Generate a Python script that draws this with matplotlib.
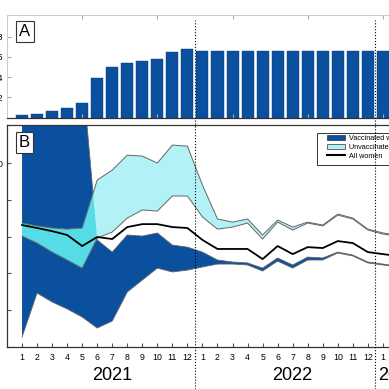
import matplotlib
matplotlib.use('Agg')
import matplotlib.pyplot as plt
import matplotlib.transforms as mtransforms
from matplotlib.patches import Patch, Rectangle
from matplotlib.lines import Line2D
import numpy as np

plt.rcParams['font.family'] = ['Liberation Sans', 'DejaVu Sans']

# Jan 2021 .. Mar 2023
month_labels = [str(m) for m in range(1, 13)] * 2 + ['1', '2', '3']
years = ['2021', '2022', '2023']
year_pos = [6, 18, 25]
year_breaks = [11.5, 23.5]

# panel A - share of women vaccinated
vacc_share = [0.025, 0.032, 0.064, 0.094, 0.144, 0.39, 0.50, 0.54, 0.56, 0.58, 0.65, 0.675,
              0.66, 0.66, 0.66, 0.66, 0.66, 0.66, 0.66, 0.66, 0.66, 0.66, 0.66, 0.66,
              0.66, 0.66, 0.66]

# panel B - rates
all_women = [6.63, 6.47, 6.30, 6.09, 5.49, 5.98, 5.87, 6.52, 6.68, 6.68, 6.52, 6.47,
             5.82, 5.33, 5.33, 5.33, 4.78, 5.49, 5.05, 5.43, 5.38, 5.76, 5.65, 5.16,
             5.05, 4.95, 4.90]
unvacc_hi = [6.74, 6.58, 6.47, 6.41, 6.47, 9.08, 9.62, 10.43, 10.38, 10.00, 10.98, 10.92,
             8.80, 6.96, 6.79, 6.96, 6.09, 6.90, 6.52, 6.79, 6.63, 7.23, 7.01, 6.41,
             6.20, 6.09, 6.00]
unvacc_lo = [6.03, 5.65, 5.16, 4.73, 4.29, 5.92, 6.25, 7.01, 7.45, 7.39, 8.21, 8.21,
             7.07, 6.41, 6.52, 6.74, 5.87, 6.79, 6.36, 6.74, 6.58, 7.17, 6.96, 6.36,
             6.14, 6.03, 5.95]
vacc_hi = [15, 15, 15, 15, 15, 5.82, 5.16, 6.09, 6.03, 6.20, 5.54, 5.43,
           5.16, 4.73, 4.62, 4.57, 4.29, 4.84, 4.46, 4.89, 4.84, 5.16, 5.00, 4.62,
           4.51, 4.40, 4.35]
vacc_lo = [0.54, 2.93, 2.45, 2.07, 1.63, 1.03, 1.41, 2.99, 3.64, 4.29, 4.08, 4.18,
           4.35, 4.51, 4.51, 4.46, 4.13, 4.67, 4.29, 4.73, 4.73, 5.11, 4.95, 4.57,
           4.46, 4.35, 4.30]

blue = '#0b4f9f'
pale = '#b2f1f6'
turq = '#55dce6'
edge = '#666666'

W = 389
fig = plt.figure(figsize=(3.89, 3.89), dpi=100)
x = np.arange(len(month_labels))

# ---- panel A
axA = fig.add_axes([7 / W, 1 - 117.5 / W, 421 / W, 102.5 / W])
axA.bar(x, vacc_share, width=0.8, color=blue, edgecolor='#0a3f80', linewidth=0.3)
axA.set_xlim(-1, 27)
axA.set_ylim(0, 1.015)
axA.set_yticks([0.2, 0.4, 0.6, 0.8])
axA.set_yticklabels(['0.2', '0.4', '0.6', '0.8'])
axA.set_xticks([4, 9, 14, 19, 24])
axA.set_xticklabels([])
axA.tick_params(direction='in', length=3, color='#aaaaaa', labelsize=6.5, pad=2.5,
                top=True, bottom=True)
for s in ['left', 'top', 'right']:
    axA.spines[s].set_color('#cccccc')
    axA.spines[s].set_linewidth(0.7)
axA.spines['bottom'].set_color('#333333')
axA.spines['bottom'].set_linewidth(0.9)
fig.text(25 / W, 1 - 31.5 / W, 'A', fontsize=12, ha='center', va='center',
         bbox=dict(boxstyle='square,pad=0.2', fc='white', ec='#333333', lw=0.8))

# ---- panel B
axB = fig.add_axes([7 / W, 1 - 347 / W, 421 / W, 222 / W])
vb = axB.fill_between(x, vacc_lo, vacc_hi, color=blue, linewidth=0, zorder=1)
axB.plot(x, vacc_hi, color=edge, lw=0.6, zorder=1.5)
axB.plot(x, vacc_lo, color=edge, lw=0.6, zorder=1.5)
axB.fill_between(x, unvacc_lo, unvacc_hi, color=pale, linewidth=0, zorder=2)
ov = axB.fill_between(x, unvacc_lo, unvacc_hi, color=turq, linewidth=0, zorder=2.1)
ov.set_clip_path(vb.get_paths()[0], axB.transData)
axB.plot(x, unvacc_hi, color=edge, lw=0.7, zorder=3)
axB.plot(x, unvacc_lo, color=edge, lw=0.7, zorder=3)
axB.plot(x, all_women, color='black', lw=1.3, zorder=4)

axB.set_xlim(-1, 27)
axB.set_ylim(0, 12.07)
axB.set_xticks(x)
axB.set_xticklabels(month_labels)
axB.set_yticks([0, 2, 4, 6, 8, 10])
axB.set_yticklabels(['', '', '', '', '', '10'])
axB.tick_params(direction='in', length=3, color='#555555', labelsize=6.3, pad=4)
axB.tick_params(axis='y', pad=2.5)
for s in axB.spines.values():
    s.set_color('#333333')
    s.set_linewidth(0.9)
fig.text(24.5 / W, 1 - 142.5 / W, 'B', fontsize=12, ha='center', va='center',
         bbox=dict(boxstyle='square,pad=0.2', fc='white', ec='#333333', lw=0.8))

# legend: frame drawn separately so the handles sit further in from the left edge
frame = Rectangle((317 / W, 1 - 165 / W), 90 / W, 32 / W, transform=fig.transFigure,
                  facecolor='white', edgecolor='#333333', lw=0.7, clip_on=False, zorder=9)
axB.add_patch(frame)
handles = [Patch(facecolor=blue, edgecolor='#333333', lw=0.5),
           Patch(facecolor=pale, edgecolor='#333333', lw=0.5),
           Line2D([], [], color='black', lw=1.5)]
leg = axB.legend(handles, ['Vaccinated women', 'Unvaccinated women', 'All women'],
                 loc='upper left', bbox_to_anchor=(327 / W, 1 - 134.5 / W),
                 bbox_transform=fig.transFigure, fontsize=5.2, borderaxespad=0,
                 borderpad=0, labelspacing=0.3, handlelength=2.5, handleheight=0.7,
                 handletextpad=0.55, frameon=False)
leg.set_zorder(10)

# year labels and year-break dotted lines
trans = mtransforms.blended_transform_factory(axB.transData, fig.transFigure)
for yr, p in zip(years, year_pos):
    axB.text(p, 1 - 375 / W, yr, transform=trans, ha='center', va='center',
             fontsize=13, clip_on=False)
for b in year_breaks:
    fig.add_artist(Line2D([b, b], [0, 1 - 20 / W], transform=trans, color='black',
                          lw=0.8, linestyle=':', zorder=20))

fig.savefig('out.png', dpi=100)
